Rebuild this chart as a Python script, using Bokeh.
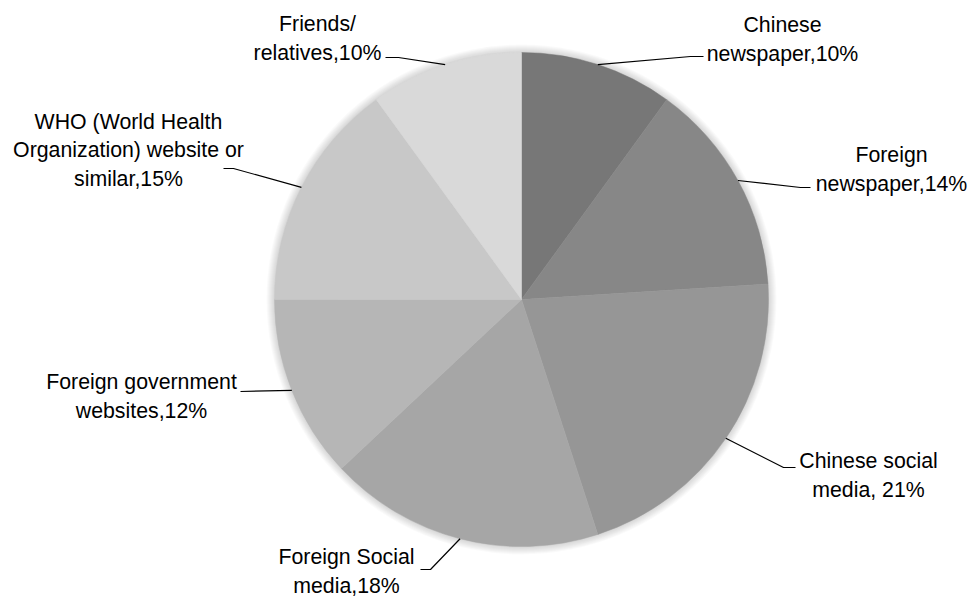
import math
from bokeh.plotting import figure
from bokeh.models import Range1d, ColumnDataSource
from bokeh.core.properties import value
from bokeh.embed import file_html
from bokeh.resources import INLINE

# ---- data ----
categories = ["Chinese newspaper", "Foreign newspaper", "Chinese social media",
              "Foreign Social media", "Foreign government websites",
              "WHO (World Health Organization) website or similar", "Friends/relatives"]
values = [10, 14, 21, 18, 12, 15, 10]
label_prefix = ["Chinese\nnewspaper,", "Foreign\nnewspaper,", "Chinese social\nmedia, ",
                "Foreign Social\nmedia,", "Foreign government\nwebsites,",
                "WHO (World Health\nOrganization) website or\nsimilar,", "Friends/\nrelatives,"]
colors = ["#777777", "#878787", "#969696", "#a6a6a6", "#b6b6b6", "#c8c8c8", "#d9d9d9"]

# ---- layout ----
W, H = 971, 599
CX, CY_PX, R = 521, 299, 247
def Y(py):
    return H - py
CY = Y(CY_PX)

# label block centers (pixel coords) and leader elbows
label_pos = [(782, 39), (891, 169), (868, 475), (346, 571), (141, 396), (128, 150), (317, 38)]
elbows = [[(690, 56), (703, 56)],
          [(800, 187), (810, 187)],
          [(783, 467), (795, 467)],
          [(430, 569), (420, 569)],
          [(240, 391)],
          [(233, 168), (223, 168)],
          [(398, 57), (385, 57)]]

p = figure(width=W, height=H, output_backend="svg", toolbar_location=None,
           x_range=Range1d(0, W), y_range=Range1d(0, H),
           x_axis_type=None, y_axis_type=None, min_border=0)
p.outline_line_color = None
p.background_fill_color = "white"
p.border_fill_color = "white"

# soft shadow
for k in range(1, 9):
    p.circle(x=[CX], y=[CY], radius=R + k, fill_color="black",
             fill_alpha=0.02, line_color=None)

total = sum(values)
starts, ends, mids = [], [], []
cum = 0
for v in values:
    a0 = 90 - (cum + v) / total * 360
    a1 = 90 - cum / total * 360
    starts.append(math.radians(a0))
    ends.append(math.radians(a1))
    mids.append(math.radians(90 - (cum + v / 2) / total * 360))
    cum += v

src = ColumnDataSource(dict(start=starts, end=ends, color=colors))
p.wedge(x=CX, y=CY, radius=R, start_angle="start", end_angle="end",
        fill_color="color", line_color="color", line_width=0.5, source=src)

# leader lines
xs, ys = [], []
for m, el in zip(mids, elbows):
    px = CX + R * math.cos(m)
    py = CY_PX - R * math.sin(m)
    pts = [(px, py)] + el
    xs.append([q[0] for q in pts])
    ys.append([Y(q[1]) for q in pts])
p.multi_line(xs=xs, ys=ys, line_color="black", line_width=1.2)

texts = [f"{pre}{v}%" for pre, v in zip(label_prefix, values)]
p.text(x=[q[0] for q in label_pos], y=[Y(q[1]) for q in label_pos], text=texts,
       text_align="center", text_baseline="middle", text_font=value("Liberation Sans"),
       text_font_size="21.3px", text_color="black", text_line_height=1.2)

open("out.html", "w").write(file_html(p, INLINE))
